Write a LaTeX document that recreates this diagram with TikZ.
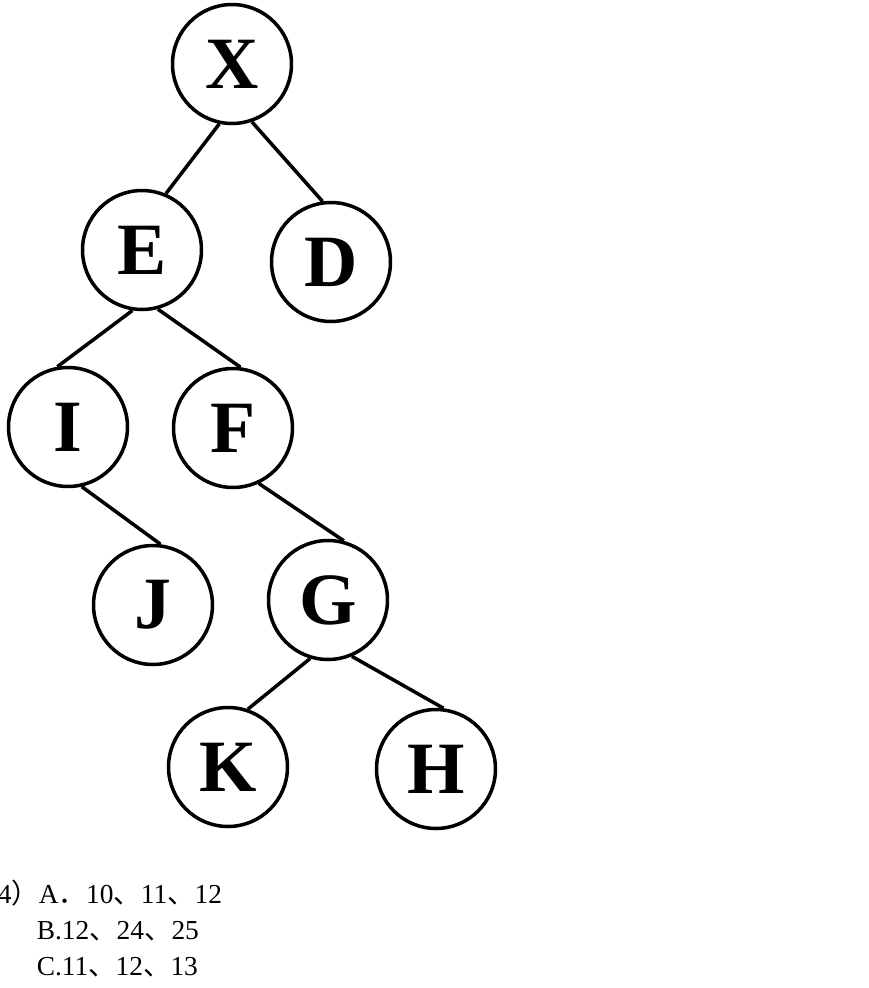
\documentclass[tikz,border=0pt]{standalone}
\usepackage{fontspec}
\setmainfont{Liberation Serif}
\newfontfamily\cjk{Noto Sans CJK SC}

\begin{document}
\begin{tikzpicture}[x=0.02cm,y=-0.02cm,line width=2pt,
  tnode/.style={draw,circle,minimum size=2.38cm,inner sep=0pt,
    font=\fontsize{42}{48}\selectfont\bfseries},
  choice/.style={anchor=base west,inner sep=0pt,
    font=\fontsize{15.6}{18}\selectfont}]

\useasboundingbox (0,0) rectangle (869,988);

% Nodes
\node[tnode] (X) at (232,64) {X};
\node[tnode] (E) at (142,250) {E};
\node[tnode] (D) at (331,262) {D};
\node[tnode] (I) at (68,427) {I};
\node[tnode] (F) at (233,428) {F};
\node[tnode] (J) at (153,605) {J};
\node[tnode] (G) at (328,600) {G};
\node[tnode] (K) at (228,767) {K};
\node[tnode] (H) at (436,769) {H};

% Edges
\draw (X.258)--(E.67);
\draw (X.289)--(D.98);
\draw (E.261)--(I.100);
\draw (E.285)--(F.83);
\draw (I.283)--(J.83);
\draw (F.295)--(G.75);
\draw (G.253)--(K.71);
\draw (G.293)--(H.83);

% Choices
\node[choice] (ca) at (-4,903) {4{\cjk ）}A{\cjk ．}10{\cjk 、}11{\cjk 、}12};
\node[choice] (cb) at (35,939) {B.12{\cjk 、}24{\cjk 、}25};
\node[choice] (cc) at (35,975) {C.11{\cjk 、}12{\cjk 、}13};

\end{tikzpicture}
\end{document}
